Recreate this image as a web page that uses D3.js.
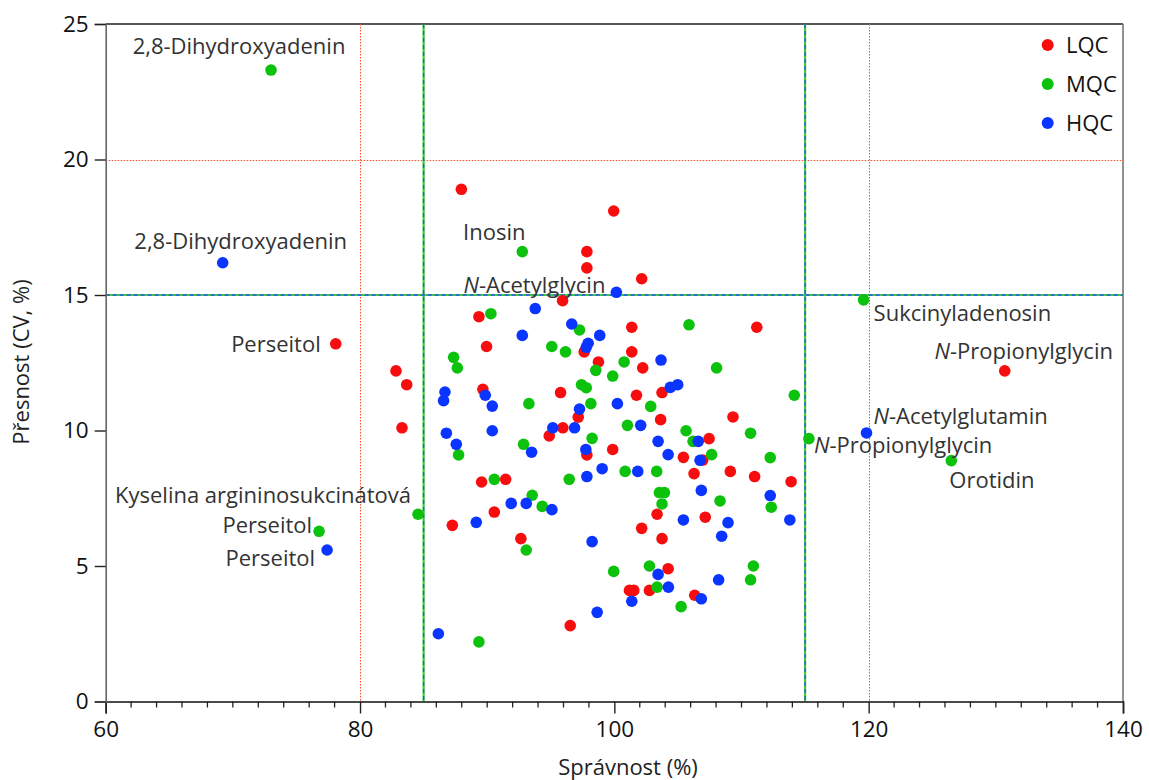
<!DOCTYPE html>
<html>
<head>
<meta charset="utf-8">
<script src="https://cdn.jsdelivr.net/npm/d3@7/dist/d3.min.js"></script>
<style>
  html, body { margin: 0; padding: 0; background: #fff; }
  svg { display: block; font-family: "Open Sans", "Noto Sans", sans-serif; }
</style>
</head>
<body>
<svg id="chart" width="1149" height="780"></svg>
<script>
// Quality-control levels
const seriesNames = ["LQC", "MQC", "HQC"];
const seriesColors = ["#f70d0d", "#0cc20c", "#0a34ff"];

// Accuracy (%) and precision (CV, %) for each QC level
const lqcAccuracy = [78.09, 82.83, 83.67, 83.30, 87.97, 99.95, 97.84, 97.84, 102.15, 95.93,
  89.35, 101.37, 111.20, 89.95, 97.63, 101.37, 98.75, 102.23, 89.66, 95.77,
  101.74, 103.75, 97.16, 109.33, 94.88, 95.95, 97.84, 99.87, 103.64, 107.45,
  105.43, 106.95, 106.27, 109.12, 111.03, 89.56, 91.45, 103.36, 102.15, 103.75,
  107.15, 90.56, 87.26, 92.65, 104.23, 101.19, 101.53, 102.76, 106.32, 96.53,
  113.90, 130.70];
const lqcPrecision = [13.20, 12.20, 11.69, 10.10, 18.90, 18.10, 16.60, 16.00, 15.60, 14.79,
  14.20, 13.81, 13.81, 13.10, 12.90, 12.90, 12.53, 12.31, 11.52, 11.40,
  11.30, 11.40, 10.49, 10.50, 9.80, 10.10, 9.10, 9.30, 10.40, 9.70,
  9.01, 8.91, 8.41, 8.49, 8.30, 8.10, 8.20, 6.91, 6.39, 6.01,
  6.80, 6.99, 6.50, 6.01, 4.90, 4.10, 4.10, 4.10, 3.92, 2.80,
  8.11, 12.20];

const mqcAccuracy = [73.00, 76.78, 84.56, 119.60, 115.30, 126.50, 114.15, 112.26, 112.34, 92.76,
  90.29, 97.26, 105.87, 95.08, 96.16, 100.77, 108.04, 98.54, 99.87, 87.36,
  87.65, 97.42, 97.79, 93.28, 98.15, 102.86, 110.71, 87.75, 98.25, 92.86,
  101.03, 105.64, 106.19, 107.65, 100.85, 103.33, 96.45, 90.56, 103.54, 103.94,
  103.75, 108.31, 93.54, 94.33, 93.07, 99.95, 102.76, 103.36, 105.25, 110.93,
  110.71, 89.35];
const mqcPrecision = [23.30, 6.28, 6.91, 14.82, 9.70, 8.89, 11.30, 9.00, 7.17, 16.60,
  14.31, 13.71, 13.90, 13.10, 12.90, 12.53, 12.31, 12.22, 12.01, 12.70,
  12.31, 11.69, 11.58, 10.99, 10.99, 10.89, 9.90, 9.10, 9.71, 9.49,
  10.19, 9.99, 9.60, 9.11, 8.49, 8.49, 8.20, 8.20, 7.71, 7.71,
  7.29, 7.40, 7.61, 7.20, 5.59, 4.80, 5.00, 4.22, 3.50, 5.00,
  4.49, 2.20];

const hqcAccuracy = [69.20, 77.41, 119.83, 112.26, 100.16, 93.78, 96.65, 92.76, 98.85, 97.94,
  97.79, 103.67, 86.68, 86.57, 89.85, 90.40, 104.40, 104.98, 97.26, 100.24,
  86.79, 90.40, 87.57, 95.16, 96.87, 97.76, 93.49, 102.07, 103.44, 106.60,
  104.23, 106.74, 99.04, 97.84, 101.84, 106.84, 105.43, 108.94, 108.44, 91.89,
  93.07, 95.09, 89.14, 98.25, 103.44, 104.25, 101.37, 106.84, 108.20, 98.65,
  86.16, 113.80];
const hqcPrecision = [16.19, 5.59, 9.91, 7.60, 15.10, 14.50, 13.93, 13.51, 13.51, 13.22,
  13.07, 12.60, 11.42, 11.10, 11.30, 10.90, 11.59, 11.69, 10.79, 10.99,
  9.90, 9.99, 9.49, 10.10, 10.10, 9.30, 9.20, 10.19, 9.60, 9.60,
  9.11, 8.90, 8.59, 8.30, 8.49, 7.79, 6.70, 6.60, 6.10, 7.31,
  7.31, 7.08, 6.61, 5.90, 4.69, 4.22, 3.70, 3.79, 4.49, 3.29,
  2.50, 6.70];

// Axis ticks
const xTicks = [60, 80, 100, 120, 140];
const yTicks = [0, 5, 10, 15, 20, 25];

// Acceptance limits: strict (85–115 %, CV 15 %) and wide (80–120 %, CV 20 %)
const strictAccuracy = [85, 115];
const strictPrecision = [15];
const wideAccuracy = [80, 120];
const widePrecision = [20];

// Named outliers: series index, point index, compound name, italic prefix
const annotSeries = [1, 2, 1, 2, 1, 0, 2, 1, 1, 0, 1, 1, 2];
const annotPoint  = [0, 0, 9, 4, 3, 51, 2, 4, 5, 0, 2, 1, 1];
const annotPrefix = ["", "", "", "N", "", "N", "N", "N", "", "", "", "", ""];
const annotText = ["2,8-Dihydroxyadenin", "2,8-Dihydroxyadenin", "Inosin", "-Acetylglycin",
  "Sukcinyladenosin", "-Propionylglycin", "-Acetylglutamin", "-Propionylglycin",
  "Orotidin", "Perseitol", "Kyselina argininosukcinátová", "Perseitol", "Perseitol"];

const series = [
  { name: seriesNames[0], color: seriesColors[0], x: lqcAccuracy, y: lqcPrecision },
  { name: seriesNames[1], color: seriesColors[1], x: mqcAccuracy, y: mqcPrecision },
  { name: seriesNames[2], color: seriesColors[2], x: hqcAccuracy, y: hqcPrecision }
];

const svg = d3.select("#chart");
const plot = { left: 105.7, right: 1123, top: 24, bottom: 701.5 };

const x = d3.scaleLinear().domain([60, 140]).range([plot.left, plot.right]);
const y = d3.scaleLinear().domain([0, 25]).range([plot.bottom, plot.top]);
const snap = v => Math.round(v) + 0.5;

// Frame: top and right borders
svg.append("line").attr("x1", plot.left).attr("x2", plot.right)
  .attr("y1", plot.top).attr("y2", plot.top)
  .attr("stroke", "#222").attr("stroke-width", 1.6);
svg.append("line").attr("x1", plot.right).attr("x2", plot.right)
  .attr("y1", plot.top).attr("y2", plot.bottom)
  .attr("stroke", "#777").attr("stroke-width", 1.6);

// Wide limits: dotted orange-red
const limits = svg.append("g");
wideAccuracy.forEach(v => {
  limits.append("line").attr("x1", snap(x(v))).attr("x2", snap(x(v)))
    .attr("y1", plot.top).attr("y2", plot.bottom)
    .attr("stroke", "#ff4f24").attr("stroke-width", 1)
    .attr("stroke-dasharray", "1.5,1.5");
});
widePrecision.forEach(v => {
  limits.append("line").attr("x1", plot.left).attr("x2", plot.right)
    .attr("y1", snap(y(v))).attr("y2", snap(y(v)))
    .attr("stroke", "#ff4f24").attr("stroke-width", 1)
    .attr("stroke-dasharray", "1.5,1.5");
});

// Strict limits: green line with blue dashes on top
function strictLine(x1, x2, y1, y2) {
  limits.append("line").attr("x1", x1).attr("x2", x2).attr("y1", y1).attr("y2", y2)
    .attr("stroke", "#3ccc3c").attr("stroke-width", 2.2);
  limits.append("line").attr("x1", x1).attr("x2", x2).attr("y1", y1).attr("y2", y2)
    .attr("stroke", "#2c50ff").attr("stroke-width", 1.3)
    .attr("stroke-dasharray", "4,3");
}
strictAccuracy.forEach(v => strictLine(x(v), x(v), plot.top, plot.bottom));
strictPrecision.forEach(v => strictLine(plot.left, plot.right, y(v), y(v)));

// Axes
const xAxis = svg.append("g")
  .attr("transform", `translate(0,${plot.bottom})`)
  .call(d3.axisBottom(x).tickValues(xTicks).tickSize(12).tickPadding(8).tickFormat(d3.format("d")));
xAxis.select(".domain").attr("stroke", "#111").attr("stroke-width", 1.6);
xAxis.selectAll(".tick line").attr("stroke", "#222").attr("stroke-width", 1.4);

const minor = d3.range(60, 141, 2).filter(v => v % 20 !== 0);
svg.append("g")
  .attr("transform", `translate(0,${plot.bottom})`)
  .selectAll("line").data(minor).join("line")
  .attr("x1", d => x(d)).attr("x2", d => x(d))
  .attr("y1", 0).attr("y2", 6)
  .attr("stroke", "#222").attr("stroke-width", 1.3);

const yAxis = svg.append("g")
  .attr("transform", `translate(${plot.left},0)`)
  .call(d3.axisLeft(y).tickValues(yTicks).tickSize(11).tickPadding(6).tickFormat(d3.format("d")));
yAxis.select(".domain").attr("stroke", "#666").attr("stroke-width", 1.6);
yAxis.selectAll(".tick line").attr("stroke", "#222").attr("stroke-width", 1.4);

svg.selectAll(".tick text")
  .attr("font-family", "'Open Sans', 'Noto Sans', sans-serif")
  .attr("font-size", 22.5).attr("fill", "#111");

// Axis titles
svg.append("text").attr("x", 628).attr("y", 775)
  .attr("text-anchor", "middle").attr("font-size", 22).attr("fill", "#222")
  .text("Správnost (%)");
svg.append("text")
  .attr("transform", "translate(29,362) rotate(-90)")
  .attr("text-anchor", "middle").attr("font-size", 22).attr("fill", "#222")
  .text("Přesnost (CV, %)");

// Points: LQC first, HQC on top
series.forEach(s => {
  svg.append("g").selectAll("circle")
    .data(s.x.map((v, i) => [v, s.y[i]]))
    .join("circle")
    .attr("cx", d => x(d[0])).attr("cy", d => y(d[1]))
    .attr("r", 5.8).attr("fill", s.color);
});

// Annotation placement relative to the marked point: anchor, dx, dy
const annotAnchor = ["middle", "middle", "middle", "end", "start", "middle", "start", "start",
  "start", "end", "end", "end", "end"];
const annotDx = [-32, 18, -28, -11, 10, 19, 7, 5, -2, -15, -7, -7, -12];
const annotDy = [-16, -14, -12, 1, 21, -12, -9, 14, 27, 8, -11, 2, 16];

const labels = svg.append("g").attr("font-size", 22).attr("fill", "#333");
annotText.forEach((t, i) => {
  const s = series[annotSeries[i]];
  const px = x(s.x[annotPoint[i]]);
  const py = y(s.y[annotPoint[i]]);
  const txt = labels.append("text")
    .attr("x", px + annotDx[i]).attr("y", py + annotDy[i])
    .attr("text-anchor", annotAnchor[i]);
  if (annotPrefix[i]) txt.append("tspan").attr("font-style", "italic").text(annotPrefix[i]);
  txt.append("tspan").text(t);
});

// Legend
const legend = svg.append("g");
series.forEach((s, i) => {
  const ly = 45 + i * 39;
  legend.append("circle").attr("cx", 1047.7).attr("cy", ly).attr("r", 6).attr("fill", s.color);
  legend.append("text").attr("x", 1066).attr("y", ly).attr("dy", "0.35em")
    .attr("font-size", 22).attr("fill", "#111").text(s.name);
});
</script>
</body>
</html>
